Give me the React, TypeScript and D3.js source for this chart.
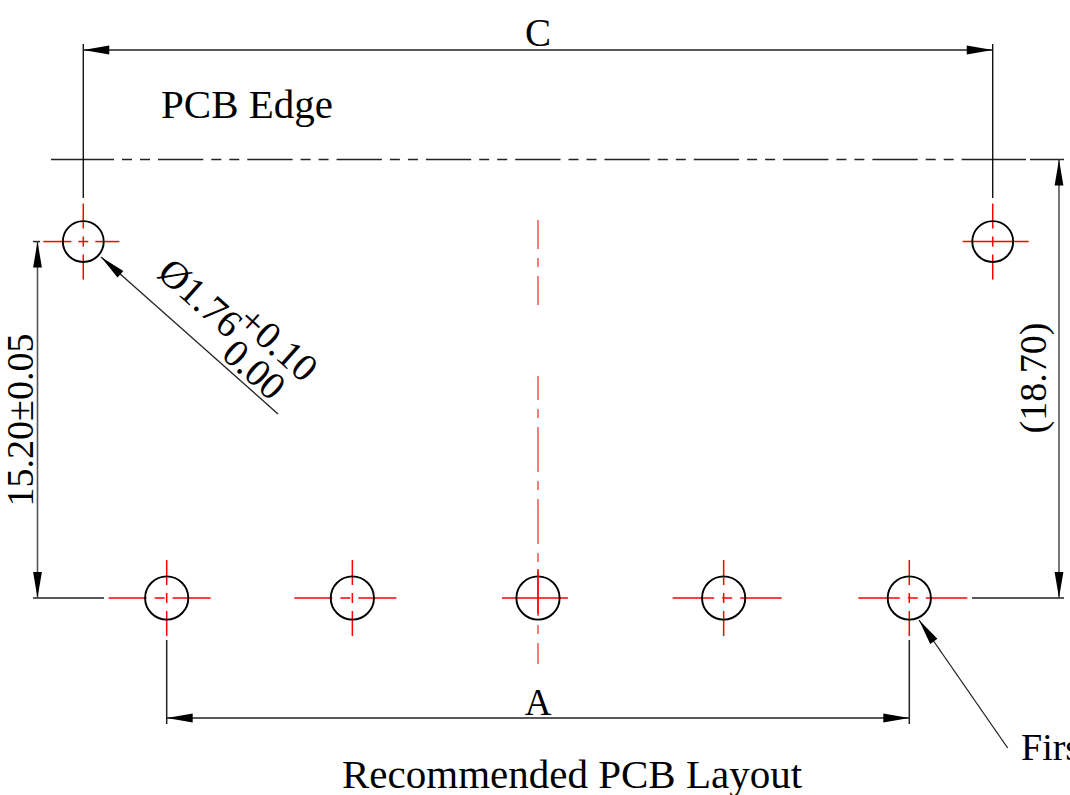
import React from "react";
import * as d3 from "d3";

// Drawing values, in millimetres, measured from the centre hole along the bottom row
const bottomHoles = [-15.8, -7.9, 0, 7.9, 15.8];
const mountHoles = [-19.35, 19.35];
const mountHeight = 15.2;
const edgeHeight = 18.7;
const bottomHoleDiameter = 1.84;
const mountHoleDiameter = 1.74;

const labelC = "C";
const labelA = "A";
const labelEdge = "PCB Edge";
const labelTitle = "Recommended PCB Layout";
const labelPitch = "15.20±0.05";
const labelEdgeDim = "(18.70)";
const labelDia = "Ø1.76";
const labelPlus = "+0.10";
const labelMinus = "0.00";
const labelFirst = "First";

const x = d3.scaleLinear().domain([0, 1]).range([538, 561.5]);
const y = d3.scaleLinear().domain([0, 1]).range([598, 574.55]);

const RED = "#ff0000";
const INK = "#000000";
const DIM = "#222222";
const SERIF = "'Liberation Serif', serif";

type Seg = [number, number];

const Arrow = ({ x1, y1, x2, y2 }: { x1: number; y1: number; x2: number; y2: number }) => {
  // arrow head with its tip at (x2,y2), pointing away from (x1,y1)
  const a = Math.atan2(y2 - y1, x2 - x1);
  const L = 26, W = 4.4;
  const bx = x2 - L * Math.cos(a), by = y2 - L * Math.sin(a);
  const nx = -Math.sin(a) * W, ny = Math.cos(a) * W;
  const p = d3.path();
  p.moveTo(x2, y2);
  p.lineTo(bx + nx, by + ny);
  p.lineTo(bx - nx, by - ny);
  p.closePath();
  return <path d={p.toString()} fill={INK} />;
};

const Ln = ({ a, b, c = DIM, w = 1.5, dash, off }: { a: [number, number]; b: [number, number]; c?: string; w?: number; dash?: string; off?: number }) => (
  <line x1={a[0]} y1={a[1]} x2={b[0]} y2={b[1]} stroke={c} strokeWidth={w} strokeDasharray={dash} strokeDashoffset={off} />
);

const Cross = ({ cx, cy, h, v }: { cx: number; cy: number; h: Seg[]; v: Seg[] }) => (
  <g>
    {h.map((s, i) => <Ln key={"h" + i} a={[cx + s[0], cy]} b={[cx + s[1], cy]} c={RED} w={1.5} />)}
    {v.map((s, i) => <Ln key={"v" + i} a={[cx, cy + s[0]]} b={[cx, cy + s[1]]} c={RED} w={1.5} />)}
  </g>
);

const vBroken: Seg[] = [[-38, -13], [-5, 5], [13, 38]];
const hLeftBottom: Seg[] = [[-58, -20], [-12, -2], [6, 44]];
const hRightBottom: Seg[] = [[-51, -9.5], [-1.5, 8.5], [16.5, 58]];
const hCentre: Seg[] = [[-36, 30]];
const vFull: Seg[] = [];

const bottomCross = [hLeftBottom, hLeftBottom, hCentre, hRightBottom, hRightBottom];
const mountCross: Seg[][] = [[[-40, -12], [-5, 5], [12, 36]], [[-30, 36]]];

export default function App() {
  const yB = y(0), yM = y(mountHeight), yE = y(edgeHeight);
  const rB = (x(bottomHoleDiameter) - x(0)) / 2;
  const rM = (x(mountHoleDiameter) - x(0)) / 2;
  const xC0 = x(mountHoles[0]), xC1 = x(mountHoles[1]);
  const xA0 = x(bottomHoles[0]), xA1 = x(bottomHoles[4]);
  const yC = 50, yA = 718;
  const xL = 37.5, xR = 1059;
  const cx = x(0);
  const edgeDash = "10 8 10 8 45.3 8";
  const centerDash = "45 9 9 9";
  const leader1: [number, number][] = [[278, 414], [101, 257]];
  const leader2: [number, number][] = [[1007.7, 748], [919, 620]];
  const lineGen = d3.line();

  return (
    <svg width={1070} height={795} viewBox="0 0 1070 795" style={{ position: "absolute", left: 0, top: 0, background: "#fff" }}>
      {/* PCB edge line */}
      <Ln a={[51, yE]} b={[114, yE]} />
      <Ln a={[122, yE]} b={[962, yE]} dash={edgeDash} />
      <Ln a={[962, yE]} b={[1026, yE]} />
      <Ln a={[1030, yE]} b={[1064, yE]} />

      {/* red vertical centre line */}
      <Ln a={[cx, 220]} b={[cx, 305]} c="#ff5a5a" w={1.6} dash={centerDash} off={16} />
      <Ln a={[cx, 376]} b={[cx, 664]} c="#ff5a5a" w={1.6} dash={centerDash} off={21} />

      {/* C dimension */}
      <Ln a={[xC0, 44]} b={[xC0, 198]} c={INK} w={1.3} />
      <Ln a={[xC1, 44]} b={[xC1, 198]} c={INK} w={1.3} />
      <Ln a={[xC0, yC]} b={[xC1, yC]} />
      <Arrow x1={xC1} y1={yC} x2={xC0} y2={yC} />
      <Arrow x1={xC0} y1={yC} x2={xC1} y2={yC} />
      <text x={cx} y={46} textAnchor="middle" fontFamily={SERIF} fontSize={39} fill={INK}>{labelC}</text>

      {/* A dimension */}
      <Ln a={[xA0, 640]} b={[xA0, 724]} />
      <Ln a={[xA1, 640]} b={[xA1, 724]} />
      <Ln a={[xA0, yA]} b={[xA1, yA]} />
      <Arrow x1={xA1} y1={yA} x2={xA0} y2={yA} />
      <Arrow x1={xA0} y1={yA} x2={xA1} y2={yA} />
      <text x={cx} y={715} textAnchor="middle" fontFamily={SERIF} fontSize={37} fill={INK}>{labelA}</text>

      {/* left dimension */}
      <Ln a={[33, yM]} b={[40, yM]} />
      <Ln a={[33, yB]} b={[104, yB]} />
      <Ln a={[xL, yM]} b={[xL, yB]} c="#555" w={1.6} />
      <Arrow x1={xL} y1={yB} x2={xL} y2={yM} />
      <Arrow x1={xL} y1={yM} x2={xL} y2={yB} />
      <text transform={`translate(33,420) rotate(-90)`} textAnchor="middle" fontFamily={SERIF} fontSize={38} fill={INK}>{labelPitch}</text>

      {/* right dimension */}
      <Ln a={[972, yB]} b={[1064, yB]} />
      <Ln a={[xR, yE]} b={[xR, yB]} c="#555" w={1.6} />
      <Arrow x1={xR} y1={yB} x2={xR} y2={yE} />
      <Arrow x1={xR} y1={yE} x2={xR} y2={yB} />
      <text transform={`translate(1046,378) rotate(-90)`} textAnchor="middle" fontFamily={SERIF} fontSize={38} fill={INK}>{labelEdgeDim}</text>

      {/* red crosses */}
      {bottomHoles.map((h, i) => (
        <Cross key={h} cx={x(h)} cy={yB} h={bottomCross[i]} v={i === 2 ? vFull : vBroken} />
      ))}
      {mountHoles.map((h, i) => (
        <Cross key={h} cx={x(h)} cy={yM} h={mountCross[i]} v={vBroken} />
      ))}

      {/* holes */}
      {bottomHoles.map((h) => (
        <circle key={h} cx={x(h)} cy={yB} r={rB} fill="none" stroke={INK} strokeWidth={1.9} />
      ))}
      {mountHoles.map((h) => (
        <circle key={h} cx={x(h)} cy={yM} r={rM} fill="none" stroke={INK} strokeWidth={1.9} />
      ))}
      <Ln a={[cx, 569]} b={[cx, 614]} c={RED} w={1.5} />

      {/* leaders */}
      <path d={lineGen(leader1) ?? ""} stroke={DIM} strokeWidth={1.3} fill="none" />
      <Arrow x1={leader1[0][0]} y1={leader1[0][1]} x2={leader1[1][0]} y2={leader1[1][1]} />
      <path d={lineGen(leader2) ?? ""} stroke={DIM} strokeWidth={1.3} fill="none" />
      <Arrow x1={leader2[0][0]} y1={leader2[0][1]} x2={leader2[1][0]} y2={leader2[1][1]} />

      {/* diameter note */}
      <g transform="translate(153,277) rotate(41.6)" fontFamily={SERIF} fontSize={39} fill={INK}>
        <text x={1} y={-3}>{labelDia}</text>
        <text x={93} y={-20}>{labelPlus}</text>
        <text x={103} y={15}>{labelMinus}</text>
      </g>

      <text x={161} y={118} fontFamily={SERIF} fontSize={41} fill={INK}>{labelEdge}</text>
      <text x={342} y={788} fontFamily={SERIF} fontSize={41} fill={INK}>{labelTitle}</text>
      <text x={1021} y={760} fontFamily={SERIF} fontSize={38} fill={INK}>{labelFirst}</text>
    </svg>
  );
}
